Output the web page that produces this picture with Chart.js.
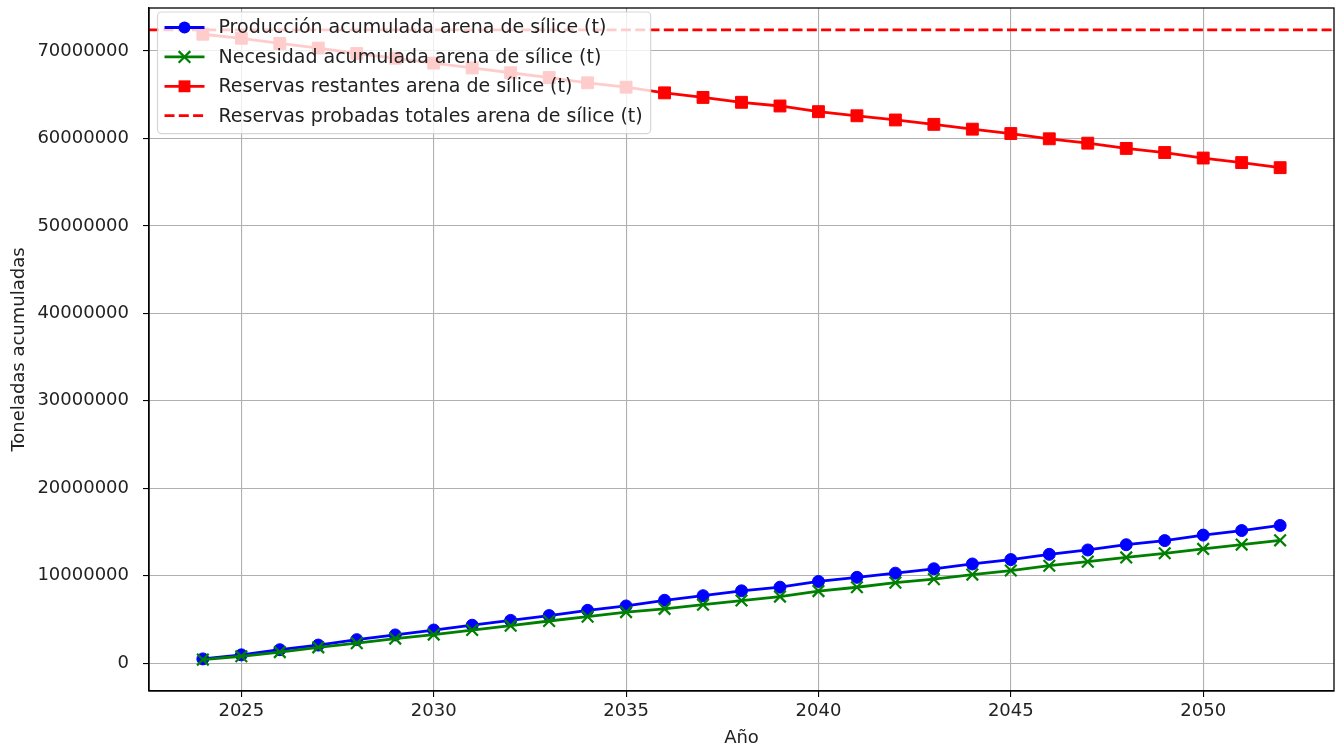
<!DOCTYPE html>
<html lang="es">
<head>
<meta charset="utf-8">
<title>Arena de sílice - toneladas acumuladas</title>
<script src="https://cdn.jsdelivr.net/npm/chart.js@4.4.1/dist/chart.umd.min.js"></script>
<style>
    html, body { margin: 0; padding: 0; background: #ffffff; }
    #chart { display: block; }
</style>
</head>
<body>
<canvas id="chart" width="1338" height="749"></canvas>
<script>
// ===== DATA =====
const years = [2024, 2025, 2026, 2027, 2028, 2029, 2030, 2031, 2032, 2033,
               2034, 2035, 2036, 2037, 2038, 2039, 2040, 2041, 2042, 2043,
               2044, 2045, 2046, 2047, 2048, 2049, 2050, 2051, 2052];

const produccionAcumulada = [500000, 960000, 1550000, 2080000, 2700000, 3240000, 3800000, 4350000, 4900000, 5450000,
                             6050000, 6550000, 7200000, 7720000, 8280000, 8700000, 9350000, 9820000, 10300000, 10800000,
                             11350000, 11850000, 12450000, 12950000, 13550000, 14020000, 14650000, 15170000, 15750000];

const necesidadAcumulada = [420000, 800000, 1280000, 1820000, 2300000, 2820000, 3280000, 3800000, 4300000, 4830000,
                            5330000, 5850000, 6220000, 6700000, 7170000, 7620000, 8250000, 8690000, 9220000, 9620000,
                            10140000, 10600000, 11150000, 11620000, 12100000, 12570000, 13070000, 13570000, 14050000];

const reservasRestantes = [71900000, 71440000, 70850000, 70320000, 69700000, 69160000, 68600000, 68050000, 67500000, 66950000,
                           66350000, 65850000, 65200000, 64680000, 64120000, 63700000, 63050000, 62580000, 62100000, 61600000,
                           61050000, 60550000, 59950000, 59450000, 58850000, 58380000, 57750000, 57230000, 56650000];

const reservasProbadasTotales = 72400000;

const xTicks = [2025, 2030, 2035, 2040, 2045, 2050];
const yTicks = [0, 10000000, 20000000, 30000000, 40000000, 50000000, 60000000, 70000000];

const xMin = 2022.6;
const xMax = 2053.4;
const yMin = -3170000;
const yMax = 74900000;

// ===== STYLE =====
const FONT = "'DejaVu Sans', sans-serif";
const FONT_SIZE = 18;
const LEGEND_FONT_SIZE = 19;
const TEXT_COLOR = '#222222';

const toPoints = (values) => values.map((v, i) => ({ x: years[i], y: v }));

// Markers would otherwise push the plot area inwards (layout min padding);
// the axes have their own margins here, so keep the area where it belongs.
Chart.registry.getController('line').prototype.getMaxOverflow = function() { return 0; };

// Spines on all four sides, like matplotlib
const framePlugin = {
    id: 'frame',
    afterDatasetsDraw(chart) {
        const { ctx, chartArea } = chart;
        ctx.save();
        ctx.strokeStyle = '#000000';
        ctx.lineWidth = 1.3;
        ctx.strokeRect(chartArea.left, chartArea.top,
                       chartArea.right - chartArea.left, chartArea.bottom - chartArea.top);
        ctx.restore();
    }
};

// Legend drawn inside the axes, above the lines, with a translucent box
const innerLegendPlugin = {
    id: 'innerLegend',
    afterDraw(chart) {
        const { ctx, chartArea } = chart;
        const sets = chart.data.datasets;
        const boxLeft = chartArea.left + 8.5;
        const boxTop = chartArea.top + 4;
        const rowH = 29.4;
        const handleX0 = boxLeft + 7;
        const handleX1 = boxLeft + 47;
        const textX = boxLeft + 61;

        ctx.save();
        ctx.font = LEGEND_FONT_SIZE + 'px ' + FONT;
        let maxW = 0;
        sets.forEach(ds => { maxW = Math.max(maxW, ctx.measureText(ds.label).width); });
        const boxW = (textX - boxLeft) + maxW + 8;
        const boxH = rowH * sets.length + 4;

        // box
        ctx.beginPath();
        ctx.roundRect(boxLeft, boxTop, boxW, boxH, 4);
        ctx.fillStyle = 'rgba(255,255,255,0.8)';
        ctx.fill();
        ctx.strokeStyle = 'rgba(204,204,204,0.8)';
        ctx.lineWidth = 1.2;
        ctx.stroke();

        sets.forEach((ds, i) => {
            const cy = boxTop + 15.5 + i * rowH;
            const mx = (handleX0 + handleX1) / 2;

            // handle line
            ctx.beginPath();
            ctx.setLineDash(ds.borderDash || []);
            ctx.strokeStyle = ds.borderColor;
            ctx.lineWidth = ds.borderWidth;
            ctx.moveTo(handleX0, cy);
            ctx.lineTo(handleX1, cy);
            ctx.stroke();
            ctx.setLineDash([]);

            // marker
            if (ds.pointRadius > 0) {
                const r = ds.pointRadius;
                ctx.fillStyle = ds.pointBackgroundColor;
                ctx.strokeStyle = ds.pointBorderColor;
                ctx.lineWidth = ds.pointBorderWidth;
                if (ds.pointStyle === 'circle') {
                    ctx.beginPath();
                    ctx.arc(mx, cy, r, 0, Math.PI * 2);
                    ctx.fill();
                } else if (ds.pointStyle === 'rect') {
                    const s = r * Math.SQRT1_2;
                    ctx.fillRect(mx - s, cy - s, 2 * s, 2 * s);
                } else if (ds.pointStyle === 'crossRot') {
                    const s = r * Math.SQRT1_2;
                    ctx.beginPath();
                    ctx.moveTo(mx - s, cy - s); ctx.lineTo(mx + s, cy + s);
                    ctx.moveTo(mx - s, cy + s); ctx.lineTo(mx + s, cy - s);
                    ctx.stroke();
                }
            }

            // label
            ctx.fillStyle = TEXT_COLOR;
            ctx.textAlign = 'left';
            ctx.textBaseline = 'middle';
            ctx.fillText(ds.label, textX, cy + 1);
        });
        ctx.restore();
    }
};

const ctx = document.getElementById('chart');

new Chart(ctx, {
    type: 'line',
    data: {
        datasets: [
            {
                label: 'Producción acumulada arena de sílice (t)',
                data: toPoints(produccionAcumulada),
                borderColor: '#0000ff',
                borderWidth: 2.8,
                pointStyle: 'circle',
                pointRadius: 6,
                pointBackgroundColor: '#0000ff',
                pointBorderColor: '#0000ff',
                pointBorderWidth: 1,
                order: 4
            },
            {
                label: 'Necesidad acumulada arena de sílice (t)',
                data: toPoints(necesidadAcumulada),
                borderColor: '#008000',
                borderWidth: 2.8,
                pointStyle: 'crossRot',
                pointRadius: 8.2,
                pointBackgroundColor: '#008000',
                pointBorderColor: '#008000',
                pointBorderWidth: 2.2,
                order: 3
            },
            {
                label: 'Reservas restantes arena de sílice (t)',
                data: toPoints(reservasRestantes),
                borderColor: '#ff0000',
                borderWidth: 2.8,
                pointStyle: 'rect',
                pointRadius: 8.4,
                pointBackgroundColor: '#ff0000',
                pointBorderColor: '#ff0000',
                pointBorderWidth: 1,
                order: 2
            },
            {
                label: 'Reservas probadas totales arena de sílice (t)',
                data: [{ x: xMin, y: reservasProbadasTotales }, { x: xMax, y: reservasProbadasTotales }],
                borderColor: '#ff0000',
                borderWidth: 2.8,
                borderDash: [10, 4.3],
                pointRadius: 0,
                order: 1
            }
        ]
    },
    options: {
        responsive: false,
        animation: false,
        devicePixelRatio: 1,
        layout: {
            padding: { top: 8, right: 4, left: 0, bottom: 0 }
        },
        plugins: {
            legend: { display: false },
            tooltip: { enabled: false }
        },
        scales: {
            x: {
                type: 'linear',
                min: xMin,
                max: xMax,
                afterBuildTicks: (scale) => { scale.ticks = xTicks.map(v => ({ value: v })); },
                afterFit: (scale) => {
                    scale.height = 58;
                    scale.paddingLeft = 0;
                    scale.paddingRight = 0;
                },
                grid: {
                    color: '#b0b0b0',
                    lineWidth: 1.1,
                    tickColor: '#000000',
                    tickLength: 6
                },
                border: { color: '#000000', width: 1.3 },
                ticks: {
                    color: TEXT_COLOR,
                    font: { family: FONT, size: FONT_SIZE },
                    padding: 4,
                    maxRotation: 0,
                    callback: (v) => String(v)
                },
                title: {
                    display: true,
                    text: 'Año',
                    color: TEXT_COLOR,
                    font: { family: FONT, size: FONT_SIZE },
                    padding: { top: 0, bottom: 0 }
                }
            },
            y: {
                type: 'linear',
                min: yMin,
                max: yMax,
                afterBuildTicks: (scale) => { scale.ticks = yTicks.map(v => ({ value: v })); },
                afterFit: (scale) => {
                    scale.width = 149;
                    scale.paddingTop = 0;
                    scale.paddingBottom = 0;
                },
                grid: {
                    color: '#b0b0b0',
                    lineWidth: 1.1,
                    tickColor: '#000000',
                    tickLength: 6
                },
                border: { color: '#000000', width: 1.3 },
                ticks: {
                    color: TEXT_COLOR,
                    font: { family: FONT, size: FONT_SIZE },
                    padding: 14,
                    callback: (v) => String(v)
                },
                title: {
                    display: true,
                    text: 'Toneladas acumuladas',
                    color: TEXT_COLOR,
                    font: { family: FONT, size: FONT_SIZE },
                    padding: { top: 9, bottom: 0 }
                }
            }
        }
    },
    plugins: [framePlugin, innerLegendPlugin]
});
</script>
</body>
</html>
